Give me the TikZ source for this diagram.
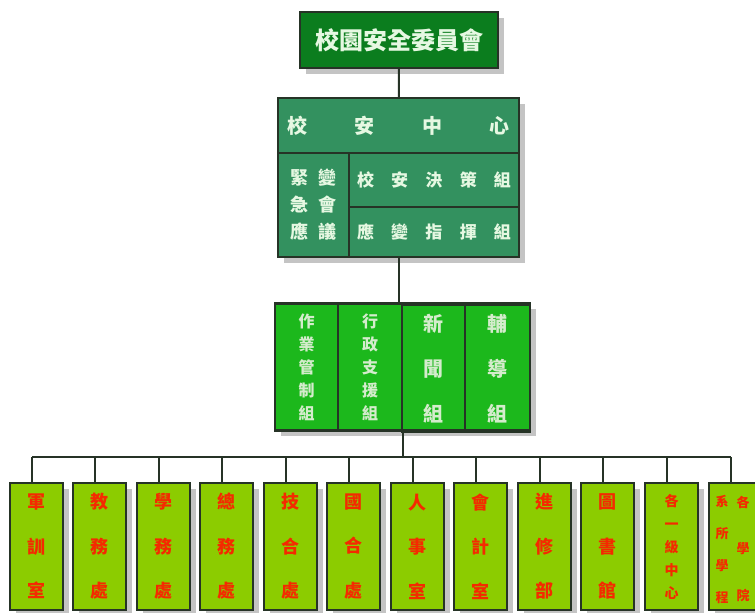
\documentclass[tikz,border=0pt]{standalone}
\usepackage{fontspec}
\setmainfont{Noto Sans CJK TC}
\usepackage{xcolor}
\usetikzlibrary{positioning, shadows}

\definecolor{boardgreen}{HTML}{0B7D1E}
\definecolor{centergreen}{HTML}{33915F}
\definecolor{opsgreen}{HTML}{1CB81C}
\definecolor{deptgreen}{HTML}{8CCC00}
\definecolor{deptred}{HTML}{F42A00}
\definecolor{paletext}{HTML}{E6F8E2}
\definecolor{opstext}{HTML}{D4ECCC}
\definecolor{linegray}{HTML}{263326}
\definecolor{shadowgray}{HTML}{C4C4C4}

\begin{document}
\begin{tikzpicture}[x=1pt, y=-1pt]
            % Define styles for the boxes
            \tikzstyle{unit} = [draw=linegray, line width=1.4pt, rectangle, inner sep=0pt, align=center]
            \tikzstyle{shade} = [general shadow={fill=shadowgray, shadow xshift=6pt, shadow yshift=-6pt}]
            \tikzstyle{deptbox} = [unit, shade, fill=deptgreen, minimum width=53pt, minimum height=127pt, text=deptred]
            \tikzstyle{link} = [draw=linegray, line width=2pt]

            \useasboundingbox (0,0) rectangle (755,613);

            % Committee at the top
            \node [unit, shade, fill=boardgreen, minimum width=198pt, minimum height=56pt, text=paletext, font=\bfseries\fontsize{24}{24}\selectfont] (board) at (399,40) {校園安全委員會};

            % Campus safety center with its groups
            \node [unit, shade, fill=centergreen, minimum width=241pt, minimum height=159pt] (center) at (398.5,177.5) {};
            \node [unit, minimum width=241pt, minimum height=55pt, text=paletext, font=\bfseries\fontsize{20}{20}\selectfont] (centerhead) at (398.5,125.5) {\makebox[222pt]{校\hfill 安\hfill 中\hfill 心}};
            \node [unit, minimum width=71pt, minimum height=104pt, text=paletext, font=\bfseries\fontsize{18}{27}\selectfont] (meeting) at (313.5,205) {緊\hspace{10pt}變\\急\hspace{10pt}會\\應\hspace{10pt}議};
            \node [unit, minimum width=170pt, minimum height=54pt, text=paletext, font=\bfseries\fontsize{17}{17}\selectfont] (policy) at (434,180) {\makebox[154pt]{校\hfill 安\hfill 決\hfill 策\hfill 組}};
            \node [unit, minimum width=170pt, minimum height=50pt, text=paletext, font=\bfseries\fontsize{17}{17}\selectfont] (command) at (434,232) {\makebox[154pt]{應\hfill 變\hfill 指\hfill 揮\hfill 組}};

            % Working groups
            \node [unit, shade, fill=opsgreen, minimum width=255pt, minimum height=127pt] (ops) at (402.5,366.5) {};
            \node [unit, minimum width=63pt, minimum height=127pt, text=opstext, font=\bfseries\fontsize{16}{23}\selectfont] (control) at (306.5,367.5) {作\\業\\管\\制\\組};
            \node [unit, minimum width=64pt, minimum height=127pt, text=opstext, font=\bfseries\fontsize{16}{23}\selectfont] (support) at (370,367.5) {行\\政\\支\\援\\組};
            \node [unit, minimum width=63pt, minimum height=127pt, text=opstext, font=\bfseries\fontsize{20}{45}\selectfont] (news) at (433.5,368.5) {新\\聞\\組};
            \node [unit, minimum width=65pt, minimum height=127pt, text=opstext, font=\bfseries\fontsize{20}{45}\selectfont] (guide) at (497.5,368.5) {輔\\導\\組};

            % Offices along the bottom
            \foreach \lbl [count=\i] in {{軍\\訓\\室}, {教\\務\\處}, {學\\務\\處}, {總\\務\\處}, {技\\合\\處}, {國\\合\\處}, {人\\事\\室}, {會\\計\\室}, {進\\修\\部}, {圖\\書\\館}}
                \node [deptbox, font=\bfseries\fontsize{18}{44.5}\selectfont] (dept\i) at ({36.5+int(63.5*(\i-1))},546.5) {\lbl};
            \node [deptbox, font=\bfseries\fontsize{14}{23}\selectfont] (dept11) at (671.5,546.5) {各\\一\\級\\中\\心};
            \node [deptbox] (dept12) at (735.5,546.5) {};
            \node [text=deptred, align=center, inner sep=0pt, font=\bfseries\fontsize{13}{46.5}\selectfont] (dept12r) at (743,548.5) {各\\學\\院};
            \node [text=deptred, align=center, inner sep=0pt, font=\bfseries\fontsize{13}{31.7}\selectfont] (dept12l) at (722,549.5) {系\\所\\學\\程};

            % Connecting lines
            \draw [link] (board) -- (center);
            \draw [link] (center.south) -- (center.south |- ops.north);
            \coordinate (bus) at (402,457);
            \draw [link] (ops.south) -- (ops.south |- bus);
            \draw [link] ([xshift=-4.5pt]dept1.north |- bus) -- ([xshift=-4.5pt]dept12.north |- bus);
            \foreach \i in {1,...,12}
                \draw [link] ([xshift=-4.5pt]dept\i.north) -- ([xshift=-4.5pt]dept\i.north |- bus);
        \end{tikzpicture}
\end{document}
